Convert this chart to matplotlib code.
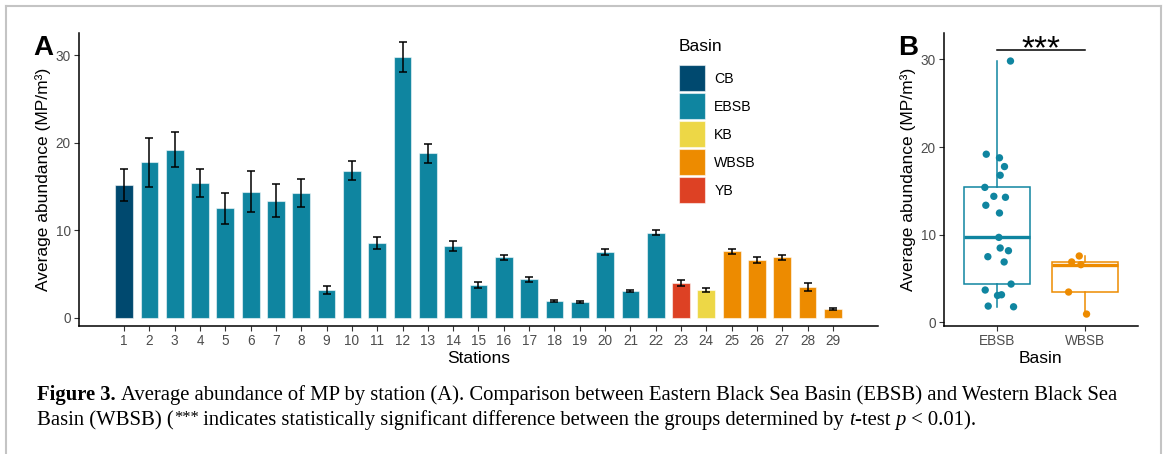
import matplotlib
matplotlib.use('Agg')
import matplotlib.pyplot as plt
from matplotlib.patches import Patch, Rectangle
from matplotlib.lines import Line2D
from matplotlib.legend_handler import HandlerPatch

# ---------------- data ----------------
stations = list(range(1, 30))
abundance = [15.15, 17.77, 19.18, 15.4, 12.48, 14.38, 13.36, 14.27, 3.16, 16.78,
             8.49, 29.8, 18.77, 8.18, 3.7, 6.9, 4.38, 1.87, 1.79, 7.5,
             3.08, 9.7, 4.0, 3.16, 7.58, 6.59, 6.9, 3.47, 0.96]
errors = [1.85, 2.8, 2.0, 1.6, 1.8, 2.35, 1.9, 1.6, 0.5, 1.1,
          0.7, 1.7, 1.1, 0.55, 0.35, 0.3, 0.3, 0.1, 0.1, 0.38,
          0.1, 0.3, 0.33, 0.22, 0.3, 0.35, 0.3, 0.45, 0.12]
basin = ['CB'] + ['EBSB'] * 21 + ['YB', 'KB'] + ['WBSB'] * 5
# horizontal jitter of the points in panel B
jitter = [0.0, 0.087, -0.12, -0.136, 0.03, -0.034, -0.125, 0.098, 0.053, 0.038,
          0.038, 0.155, 0.03, 0.132, -0.132, 0.083, 0.162, -0.098, 0.19, -0.102,
          0.008, 0.023, 0.0, 0.0, -0.064, -0.045, -0.15, -0.185, 0.019]
basin_levels = ['CB', 'EBSB', 'KB', 'WBSB', 'YB']
basin_colors = {'CB': '#00496f', 'EBSB': '#0f85a0', 'KB': '#edd746',
                'WBSB': '#ed8b00', 'YB': '#dd4124'}
box_groups = ['EBSB', 'WBSB']

# ---------------- figure ----------------
W, H = 1168, 454
plt.rcParams['font.family'] = ['Liberation Sans', 'DejaVu Sans']
fig = plt.figure(figsize=(W / 100, H / 100), dpi=100)

def fx(px):
    return px / W

def fy(py):
    return 1 - py / H

TICK_COL = '#4d4d4d'
TICK_SIZE = 9.8
TITLE_SIZE = 12.5

def style_axes(ax):
    for s in ['top', 'right']:
        ax.spines[s].set_visible(False)
    for s in ['left', 'bottom']:
        ax.spines[s].set_linewidth(1.1)
        ax.spines[s].set_color('black')
    ax.tick_params(axis='both', length=3.5, width=0.8, color='#333333',
                   labelcolor=TICK_COL, labelsize=TICK_SIZE, pad=2.5)

# ---- panel A ----
axA = fig.add_axes([fx(79), fy(326), fx(878) - fx(79), fy(33.3) - fy(326)])
bar_cols = [basin_colors[b] for b in basin]
axA.bar(stations, abundance, width=0.7, color=bar_cols,
        edgecolor=(1, 1, 1, 0.55), linewidth=0.8, zorder=2)
axA.errorbar(stations, abundance, yerr=errors, fmt='none', ecolor='black',
             elinewidth=1.1, capsize=2.6, capthick=1.1, zorder=3)
axA.set_xlim(-0.78, 30.78)
axA.set_ylim(-0.95, 32.48)
axA.set_xticks(stations)
axA.set_xticklabels([str(s) for s in stations])
axA.set_yticks([0, 10, 20, 30])
style_axes(axA)
axA.set_xlabel('Stations', fontsize=TITLE_SIZE, labelpad=2)
axA.set_ylabel('Average abundance (MP/m³)', fontsize=TITLE_SIZE, labelpad=3)


def square_patch(legend, orig_handle, xdescent, ydescent, width, height, fontsize):
    side = width
    return Rectangle((-xdescent, 0.33 * fontsize - side / 2), width, side)


handles = [Patch(facecolor=basin_colors[b], edgecolor=(1, 1, 1, 0.55), linewidth=0.8)
           for b in basin_levels]
leg = axA.legend(handles, basin_levels, title='Basin', loc='upper left',
                 bbox_to_anchor=(fx(679), fy(39)), bbox_transform=fig.transFigure,
                 frameon=False, fontsize=10.2, title_fontsize=12.5,
                 handlelength=1.835, handleheight=2.446, labelspacing=0.14,
                 handletextpad=0.66, borderpad=0, borderaxespad=0,
                 alignment='left',
                 handler_map={Patch: HandlerPatch(patch_func=square_patch)})
leg._legend_box.sep = 8.5  # gap between title and first key

# ---- panel B ----
axB = fig.add_axes([fx(944), fy(326), fx(1137.7) - fx(944), fy(33.3) - fy(326)])
positions = [1, 2]
for pos, grp in zip(positions, box_groups):
    col = basin_colors[grp]
    vals = [v for v, b in zip(abundance, basin) if b == grp]
    axB.boxplot([vals], positions=[pos], widths=0.75, whis=1.5, showfliers=False,
                showcaps=False, patch_artist=True,
                boxprops=dict(facecolor='white', edgecolor=col, linewidth=1.1),
                whiskerprops=dict(color=col, linewidth=1.1),
                medianprops=dict(color=col, linewidth=2.4),
                zorder=2)
    xs = [pos + j for j, b in zip(jitter, basin) if b == grp]
    axB.scatter(xs, vals, s=28, color=col, edgecolors='none', zorder=4)
axB.set_xlim(0.4, 2.6)
axB.set_ylim(-0.4, 32.96)
axB.set_xticks(positions)
axB.set_xticklabels(box_groups)
axB.set_yticks([0, 10, 20, 30])
style_axes(axB)
axB.set_xlabel('Basin', fontsize=TITLE_SIZE, labelpad=2)
axB.set_ylabel('Average abundance (MP/m³)', fontsize=TITLE_SIZE, labelpad=3)
axB.plot([1, 2], [31.06, 31.06], color='black', lw=1.1, clip_on=False, zorder=5)
axB.text(1.5, 30.1, '***', ha='center', va='baseline', fontsize=24, clip_on=False)

# panel letters
fig.text(fx(33), fy(55), 'A', fontsize=20, fontweight='bold', va='baseline', ha='left')
fig.text(fx(898), fy(55), 'B', fontsize=20, fontweight='bold', va='baseline', ha='left')

# page frame
frame_col = '#c4c4c4'
fig.add_artist(Line2D([fx(6), fx(1161)], [fy(6), fy(6)], color=frame_col, lw=1.5))
fig.add_artist(Line2D([fx(6), fx(6)], [fy(6), 0], color=frame_col, lw=1.5))
fig.add_artist(Line2D([fx(1161), fx(1161)], [fy(6), 0], color=frame_col, lw=1.5))

# caption
renderer = fig.canvas.get_renderer()
CAP_SIZE = 14.9
SERIF = ['Liberation Serif', 'DejaVu Serif']

def draw_runs(x_px, y_px, runs):
    x = x_px
    for txt, kw in runs:
        size = kw.pop('size', CAP_SIZE)
        dy = kw.pop('dy', 0)
        t = fig.text(fx(x), fy(y_px - dy), txt, fontsize=size, family=SERIF,
                     va='baseline', ha='left', **kw)
        x += t.get_window_extent(renderer).width

draw_runs(37, 400, [
    ('Figure 3. ', dict(fontweight='bold')),
    ('Average abundance of MP by station (A). Comparison between Eastern Black Sea '
     'Basin (EBSB) and Western Black Sea', dict()),
])
draw_runs(37, 425, [
    ('Basin (WBSB) (', dict()),
    ('***', dict(size=CAP_SIZE * 0.8, dy=3)),
    (' indicates statistically significant difference between the groups determined by ', dict()),
    ('t', dict(style='italic')),
    ('-test ', dict()),
    ('p', dict(style='italic')),
    (' < 0.01).', dict()),
])

fig.savefig('out.png', dpi=100)
